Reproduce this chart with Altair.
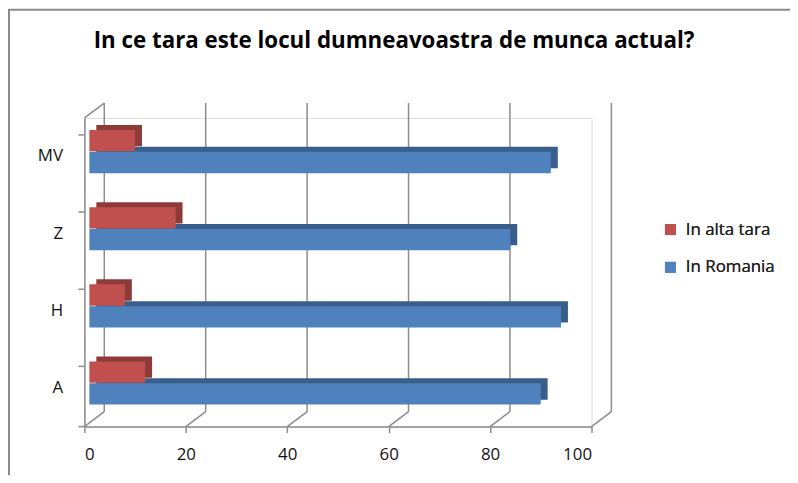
import altair as alt
import pandas as pd

categories = ["A", "H", "Z", "MV"]
in_romania = [89, 93, 83, 91]
in_alta_tara = [11, 7, 17, 9]
series = ["In alta tara", "In Romania"]
x_ticks = [0, 20, 40, 60, 80, 100]
title_text = "In ce tara este locul dumneavoastra de munca actual?"

rows = []
for c, r, a in zip(categories, in_romania, in_alta_tara):
    rows.append({"cat": c, "series": "In alta tara", "value": a})
    rows.append({"cat": c, "series": "In Romania", "value": r})
df = pd.DataFrame(rows)
ticks_df = pd.DataFrame({"v": x_ticks})
cats_df = pd.DataFrame({"cat": categories})
title_df = pd.DataFrame({"t": [title_text]})

cat_order = ["MV", "Z", "H", "A"]
FONT = "Open Sans"
GRID = "#8c8c8c"

xscale = alt.Scale(domain=[0, 100], nice=False, zero=True)
yscale = alt.Scale(domain=cat_order, paddingInner=0.44, paddingOuter=0.22)

x_enc = alt.X("value:Q", scale=xscale,
              axis=alt.Axis(values=x_ticks, title=None, grid=False, domainColor=GRID,
                            domainWidth=1.5, tickColor=GRID, tickWidth=1.5, tickSize=6,
                            labelFont=FONT, labelFontSize=17, labelColor="#111",
                            labelPadding=14))
y_enc = alt.Y("cat:N", scale=yscale, sort=cat_order,
              axis=alt.Axis(title=None, ticks=False, domainColor=GRID, domainWidth=1.5,
                            labelFont=FONT, labelFontSize=17, labelColor="#111",
                            labelPadding=22))

# back wall gridlines
back_grid = alt.Chart(ticks_df).mark_rule(color=GRID, strokeWidth=1.5, xOffset=20).encode(
    x=alt.X("v:Q", scale=xscale), y=alt.value(-15), y2=alt.value(296))
# floor connectors
floor = alt.Chart(ticks_df).mark_rule(color=GRID, strokeWidth=1.5, x2Offset=20).encode(
    x=alt.X("v:Q", scale=xscale), x2="v:Q", y=alt.value(311), y2=alt.value(296))
# left wall top connector
wall_top = alt.Chart(ticks_df[ticks_df.v == 0]).mark_rule(color=GRID, strokeWidth=1.5, x2Offset=20).encode(
    x=alt.X("v:Q", scale=xscale), x2="v:Q", y=alt.value(0), y2=alt.value(-15))
# y ticks at category boundaries
ytick = alt.Chart(cats_df).mark_rule(color=GRID, strokeWidth=1.5).encode(
    y=alt.Y("cat:N", scale=yscale, sort=cat_order, bandPosition=0),
    x=alt.value(-6), x2=alt.value(0))
ytick_end = alt.Chart(cats_df.head(1)).mark_rule(color=GRID, strokeWidth=1.5).encode(
    y=alt.value(311), x=alt.value(-6), x2=alt.value(0))

color_main = alt.Color("series:N", scale=alt.Scale(domain=series, range=["#C0504D", "#4F81BD"]),
                       legend=alt.Legend(title=None, orient="none", legendX=582, legendY=104,
                                         symbolType="square", symbolSize=121,
                                         symbolStrokeWidth=0, labelFont=FONT,
                                         labelFontSize=17, labelColor="#222",
                                         rowPadding=20, labelOffset=7))
color_dark = alt.Color("series:N", scale=alt.Scale(domain=series, range=["#8E3A38", "#395E8C"]),
                       legend=None)

BAR_H = 21.5
offsets = {"In alta tara": -16, "In Romania": 6}

layers_dark = []
layers_main = []
for s in series:
    base = alt.Chart(df).transform_filter(alt.datum.series == s)
    layers_dark.append(base.mark_bar(height=BAR_H, xOffset=12, yOffset=offsets[s] - 5).encode(
        x=x_enc, y=y_enc, color=color_dark))
    layers_main.append(base.mark_bar(height=BAR_H, xOffset=5, yOffset=offsets[s]).encode(
        x=x_enc, y=y_enc, color=color_main))

frame = alt.Chart(cats_df.head(1)).mark_rect(fill=None, stroke="#8a8a8a", strokeWidth=2).encode(
    x=alt.value(-76), y=alt.value(-109), x2=alt.value(800), y2=alt.value(500))

title = alt.Chart(title_df).mark_text(font="Open Sans", fontSize=22.5, fontWeight="bold", color="#000",
                                      align="center", baseline="alphabetic").encode(
    text="t:N", x=alt.value(312), y=alt.value(-70))

chart = alt.layer(frame, back_grid, floor, wall_top, ytick, ytick_end,
                  layers_dark[1], layers_main[1], layers_dark[0], layers_main[0],
                  title).resolve_scale(
    color="independent"
).properties(
    width=511, height=311,
    autosize=alt.AutoSizeParams(type="none"),
    padding={"left": 77, "top": 109, "right": 200, "bottom": 47},
).configure_view(stroke=None).configure(background="white")

chart.save("out.html", embed_options={"renderer": "svg", "actions": False})
